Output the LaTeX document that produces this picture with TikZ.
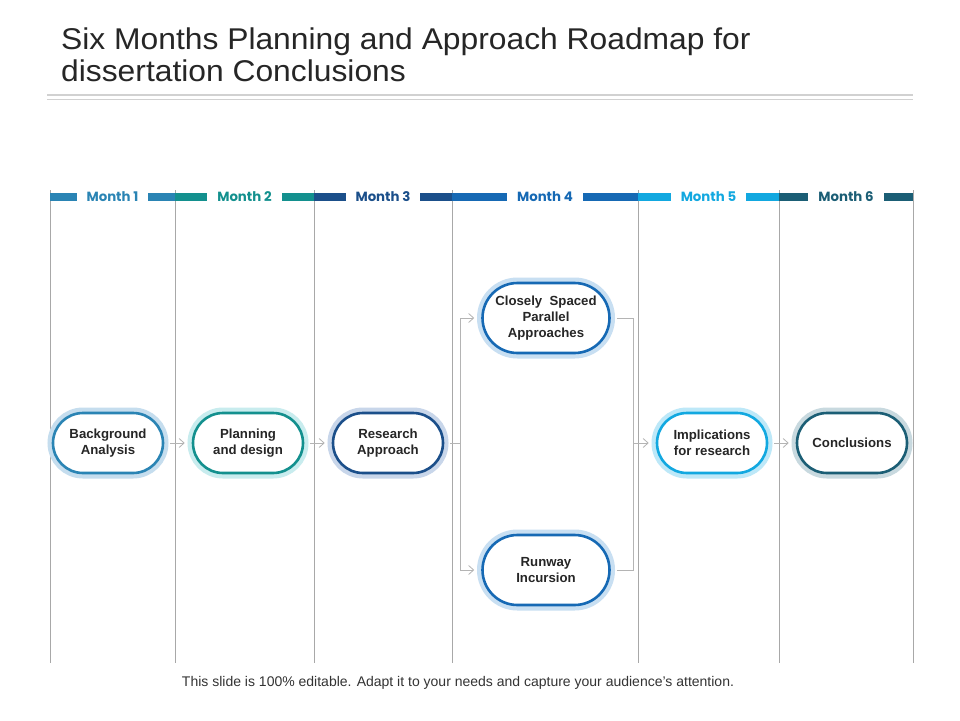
\documentclass[tikz,border=0pt]{standalone}
\usepackage{fontspec}
\setmainfont{Liberation Sans}
\newfontfamily\monthfont{Poppins}
\usetikzlibrary{shapes.misc,arrows.meta}
\definecolor{cA}{HTML}{2A84B4}
\definecolor{cB}{HTML}{13908E}
\definecolor{cC}{HTML}{1B4F8A}
\definecolor{cD}{HTML}{1669B4}
\definecolor{cE}{HTML}{12A8E0}
\definecolor{cF}{HTML}{1B5E75}
\definecolor{hA}{HTML}{C5DDEE}
\definecolor{hB}{HTML}{C8ECEE}
\definecolor{hC}{HTML}{C8D6EA}
\definecolor{hD}{HTML}{C8DFF2}
\definecolor{hE}{HTML}{BDE8F8}
\definecolor{hF}{HTML}{C8D9DF}
\definecolor{grid}{HTML}{A8A8A8}
\definecolor{conn}{HTML}{B4B4B4}
\tikzset{
  stadium/.style 2 args={rounded rectangle, fill=white, draw=#1, line width=2.6pt,
    preaction={draw=#2, line width=11pt},
    minimum width=110pt, minimum height=60pt, inner sep=0pt,
    align=center, font=\fontsize{13.2}{16}\selectfont\bfseries, text=black!85},
  conn/.style={draw=conn, line width=0.8pt},
  arr/.style={conn, -{Straight Barb[length=5pt,width=9pt,line width=0.8pt]}},
  monthlbl/.style={fill=white, inner xsep=10pt, inner ysep=1pt, font=\monthfont\fontsize{13.3}{15}\selectfont\bfseries, text=#1},
  vline/.style={draw=grid, line width=0.8pt},
  titlelbl/.style={anchor=base west, inner sep=0pt, font=\fontsize{30}{34}\selectfont, text=black!85}
}
\begin{document}
\begin{tikzpicture}[x=1pt,y=-1pt]
\useasboundingbox (0,0) rectangle (960,720);
\fill[white] (0,0) rectangle (960,720);
% title
\node[titlelbl] (t1) at (61,49) {\scalebox{1.06}[1]{Six Months Planning and Approach Roadmap for}};
\node[titlelbl] (t2) at (61,81) {\scalebox{1.06}[1]{dissertation Conclusions}};
\draw[draw=black!18, line width=1.6pt] (47,95) -- (913,95);
\draw[draw=black!18, line width=1.6pt] (47,99.5) -- (913,99.5);
% vertical lines
\foreach \x in {50,175,314,452,638,779,913} \draw[vline] (\x,190) -- (\x,663);
% month bars
\foreach \a/\b/\c/\n in {50/175/cA/1,175/314/cB/2,314/452/cC/3,452/638/cD/4,638/779/cE/5,779/913/cF/6}{
  \fill[\c] (\a,193) rectangle (\b,201);
  \node[monthlbl=\c] (m\n) at ({(\a+\b)/2},197) {Month \n};
}
% nodes
\node[stadium={cA}{hA}] (bg) at (108,443) {Background\\Analysis};
\node[stadium={cB}{hB}] (pd) at (248,443) {Planning\\and design};
\node[stadium={cC}{hC}] (ra) at (388,443) {Research\\Approach};
\node[stadium={cD}{hD}, minimum width=127pt, minimum height=70pt] (cs) at (546,318) {Closely\ \ Spaced\\Parallel\\Approaches};
\node[stadium={cD}{hD}, minimum width=127pt, minimum height=70pt] (ri) at (546,570) {Runway\\Incursion};
\node[stadium={cE}{hE}] (ir) at (712,443) {Implications\\for research};
\node[stadium={cF}{hF}] (co) at (852,443) {Conclusions};
% connectors
\coordinate (sl) at (460,443);
\coordinate (sr) at (633,443);
\draw[arr] ([xshift=6pt]bg.east) -- ([xshift=-7pt]pd.west);
\draw[arr] ([xshift=6pt]pd.east) -- ([xshift=-7pt]ra.west);
\draw[conn] ([xshift=6pt]ra.east) -- (sl);
\draw[arr] (sl) |- ([xshift=-7pt]cs.west);
\draw[arr] (sl) |- ([xshift=-7pt]ri.west);
\draw[conn] ([xshift=6pt]cs.east) -| (sr);
\draw[conn] ([xshift=6pt]ri.east) -| (sr);
\draw[arr] (sr) -- ([xshift=-7pt]ir.west);
\draw[arr] ([xshift=6pt]ir.east) -- ([xshift=-7pt]co.west);
% footer
\node[anchor=base, inner sep=0pt, font=\fontsize{14}{16}\selectfont, text=black!80] (ft) at (458,686) {This slide is 100\% editable. Adapt it to your needs and capture your audience{\char"27}s attention.};
\end{tikzpicture}
\end{document}
